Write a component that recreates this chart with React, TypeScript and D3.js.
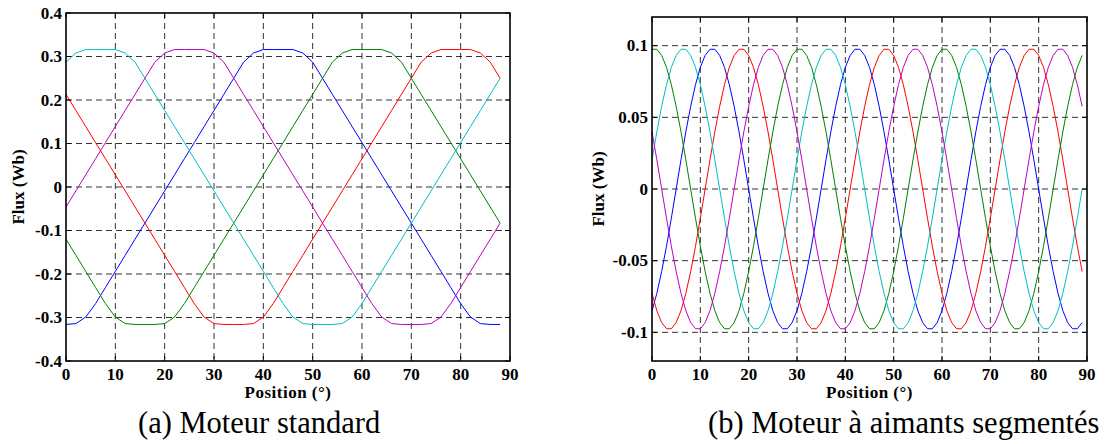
import React from "react";
import * as d3 from "d3";

// ---------- shared axes ----------
const xTicks = [0, 10, 20, 30, 40, 50, 60, 70, 80, 90];
const xTickLabels = ["0", "10", "20", "30", "40", "50", "60", "70", "80", "90"];

// ---------- (a) Moteur standard ----------
const yTicksA = [-0.4, -0.3, -0.2, -0.1, 0, 0.1, 0.2, 0.3, 0.4];
const yTickLabelsA = ["-0.4", "-0.3", "-0.2", "-0.1", "0", "0.1", "0.2", "0.3", "0.4"];
const posA = [0, 2, 4, 6, 8, 10, 12, 14, 16, 18, 20, 22, 24, 26, 28, 30, 32, 34, 36, 38, 40, 42, 44, 46, 48, 50, 52, 54, 56, 58, 60, 62, 64, 66, 68, 70, 72, 74, 76, 78, 80, 82, 84, 86, 88];
const cyanA = [0.287, 0.308, 0.316, 0.316, 0.316, 0.316, 0.308, 0.287, 0.25, 0.213, 0.176, 0.139, 0.102, 0.065, 0.028, -0.009, -0.046, -0.083, -0.12, -0.157, -0.194, -0.231, -0.268, -0.299, -0.314, -0.316, -0.316, -0.316, -0.314, -0.299, -0.268, -0.231, -0.194, -0.157, -0.12, -0.083, -0.046, -0.009, 0.028, 0.065, 0.102, 0.139, 0.176, 0.213, 0.25];
const magentaA = [-0.046, -0.009, 0.028, 0.065, 0.102, 0.139, 0.176, 0.213, 0.25, 0.287, 0.308, 0.316, 0.316, 0.316, 0.316, 0.308, 0.287, 0.25, 0.213, 0.176, 0.139, 0.102, 0.065, 0.028, -0.009, -0.046, -0.083, -0.12, -0.157, -0.194, -0.231, -0.268, -0.299, -0.314, -0.316, -0.316, -0.316, -0.314, -0.299, -0.268, -0.231, -0.194, -0.157, -0.12, -0.083];
const blueA = [-0.316, -0.314, -0.299, -0.268, -0.231, -0.194, -0.157, -0.12, -0.083, -0.046, -0.009, 0.028, 0.065, 0.102, 0.139, 0.176, 0.213, 0.25, 0.287, 0.308, 0.316, 0.316, 0.316, 0.316, 0.308, 0.287, 0.25, 0.213, 0.176, 0.139, 0.102, 0.065, 0.028, -0.009, -0.046, -0.083, -0.12, -0.157, -0.194, -0.231, -0.268, -0.299, -0.314, -0.316, -0.316];
const greenA = [-0.12, -0.157, -0.194, -0.231, -0.268, -0.299, -0.314, -0.316, -0.316, -0.316, -0.314, -0.299, -0.268, -0.231, -0.194, -0.157, -0.12, -0.083, -0.046, -0.009, 0.028, 0.065, 0.102, 0.139, 0.176, 0.213, 0.25, 0.287, 0.308, 0.316, 0.316, 0.316, 0.316, 0.308, 0.287, 0.25, 0.213, 0.176, 0.139, 0.102, 0.065, 0.028, -0.009, -0.046, -0.083];
const redA = [0.213, 0.176, 0.139, 0.102, 0.065, 0.028, -0.009, -0.046, -0.083, -0.12, -0.157, -0.194, -0.231, -0.268, -0.299, -0.314, -0.316, -0.316, -0.316, -0.314, -0.299, -0.268, -0.231, -0.194, -0.157, -0.12, -0.083, -0.046, -0.009, 0.028, 0.065, 0.102, 0.139, 0.176, 0.213, 0.25, 0.287, 0.308, 0.316, 0.316, 0.316, 0.316, 0.308, 0.287, 0.25];

// ---------- (b) Moteur à aimants segmentés ----------
const yTicksB = [-0.1, -0.05, 0, 0.05, 0.1];
const yTickLabelsB = ["-0.1", "-0.05", "0", "0.05", "0.1"];
const posB = [0, 1, 2, 3, 4, 5, 6, 7, 8, 9, 10, 11, 12, 13, 14, 15, 16, 17, 18, 19, 20, 21, 22, 23, 24, 25, 26, 27, 28, 29, 30, 31, 32, 33, 34, 35, 36, 37, 38, 39, 40, 41, 42, 43, 44, 45, 46, 47, 48, 49, 50, 51, 52, 53, 54, 55, 56, 57, 58, 59, 60, 61, 62, 63, 64, 65, 66, 67, 68, 69, 70, 71, 72, 73, 74, 75, 76, 77, 78, 79, 80, 81, 82, 83, 84, 85, 86, 87, 88, 89];
const greenB = [
  0.0975, 0.0975, 0.0932, 0.0849, 0.0728, 0.0576, 0.0399, 0.0204, 0, -0.0204, -0.0399, -0.0576, -0.0728, -0.0849, -0.0932, -0.0975, -0.0975, -0.0932, -0.0849, -0.0728, -0.0576, -0.0399, -0.0204, 0, 0.0204, 0.0399, 0.0576, 0.0728, 0.0849, 0.0932,
  0.0975, 0.0975, 0.0932, 0.0849, 0.0728, 0.0576, 0.0399, 0.0204, 0, -0.0204, -0.0399, -0.0576, -0.0728, -0.0849, -0.0932, -0.0975, -0.0975, -0.0932, -0.0849, -0.0728, -0.0576, -0.0399, -0.0204, 0, 0.0204, 0.0399, 0.0576, 0.0728, 0.0849, 0.0932,
  0.0975, 0.0975, 0.0932, 0.0849, 0.0728, 0.0576, 0.0399, 0.0204, 0, -0.0204, -0.0399, -0.0576, -0.0728, -0.0849, -0.0932, -0.0975, -0.0975, -0.0932, -0.0849, -0.0728, -0.0576, -0.0399, -0.0204, 0, 0.0204, 0.0399, 0.0576, 0.0728, 0.0849, 0.0932,
];
const cyanB = [
  0.0204, 0.0399, 0.0576, 0.0728, 0.0849, 0.0932, 0.0975, 0.0975, 0.0932, 0.0849, 0.0728, 0.0576, 0.0399, 0.0204, 0, -0.0204, -0.0399, -0.0576, -0.0728, -0.0849, -0.0932, -0.0975, -0.0975, -0.0932, -0.0849, -0.0728, -0.0576, -0.0399, -0.0204, 0,
  0.0204, 0.0399, 0.0576, 0.0728, 0.0849, 0.0932, 0.0975, 0.0975, 0.0932, 0.0849, 0.0728, 0.0576, 0.0399, 0.0204, 0, -0.0204, -0.0399, -0.0576, -0.0728, -0.0849, -0.0932, -0.0975, -0.0975, -0.0932, -0.0849, -0.0728, -0.0576, -0.0399, -0.0204, 0,
  0.0204, 0.0399, 0.0576, 0.0728, 0.0849, 0.0932, 0.0975, 0.0975, 0.0932, 0.0849, 0.0728, 0.0576, 0.0399, 0.0204, 0, -0.0204, -0.0399, -0.0576, -0.0728, -0.0849, -0.0932, -0.0975, -0.0975, -0.0932, -0.0849, -0.0728, -0.0576, -0.0399, -0.0204, 0,
];
const blueB = [
  -0.0849, -0.0728, -0.0576, -0.0399, -0.0204, 0, 0.0204, 0.0399, 0.0576, 0.0728, 0.0849, 0.0932, 0.0975, 0.0975, 0.0932, 0.0849, 0.0728, 0.0576, 0.0399, 0.0204, 0, -0.0204, -0.0399, -0.0576, -0.0728, -0.0849, -0.0932, -0.0975, -0.0975, -0.0932,
  -0.0849, -0.0728, -0.0576, -0.0399, -0.0204, 0, 0.0204, 0.0399, 0.0576, 0.0728, 0.0849, 0.0932, 0.0975, 0.0975, 0.0932, 0.0849, 0.0728, 0.0576, 0.0399, 0.0204, 0, -0.0204, -0.0399, -0.0576, -0.0728, -0.0849, -0.0932, -0.0975, -0.0975, -0.0932,
  -0.0849, -0.0728, -0.0576, -0.0399, -0.0204, 0, 0.0204, 0.0399, 0.0576, 0.0728, 0.0849, 0.0932, 0.0975, 0.0975, 0.0932, 0.0849, 0.0728, 0.0576, 0.0399, 0.0204, 0, -0.0204, -0.0399, -0.0576, -0.0728, -0.0849, -0.0932, -0.0975, -0.0975, -0.0932,
];
const redB = [
  -0.0728, -0.0849, -0.0932, -0.0975, -0.0975, -0.0932, -0.0849, -0.0728, -0.0576, -0.0399, -0.0204, 0, 0.0204, 0.0399, 0.0576, 0.0728, 0.0849, 0.0932, 0.0975, 0.0975, 0.0932, 0.0849, 0.0728, 0.0576, 0.0399, 0.0204, 0, -0.0204, -0.0399, -0.0576,
  -0.0728, -0.0849, -0.0932, -0.0975, -0.0975, -0.0932, -0.0849, -0.0728, -0.0576, -0.0399, -0.0204, 0, 0.0204, 0.0399, 0.0576, 0.0728, 0.0849, 0.0932, 0.0975, 0.0975, 0.0932, 0.0849, 0.0728, 0.0576, 0.0399, 0.0204, 0, -0.0204, -0.0399, -0.0576,
  -0.0728, -0.0849, -0.0932, -0.0975, -0.0975, -0.0932, -0.0849, -0.0728, -0.0576, -0.0399, -0.0204, 0, 0.0204, 0.0399, 0.0576, 0.0728, 0.0849, 0.0932, 0.0975, 0.0975, 0.0932, 0.0849, 0.0728, 0.0576, 0.0399, 0.0204, 0, -0.0204, -0.0399, -0.0576,
];
const magentaB = [
  0.0399, 0.0204, 0, -0.0204, -0.0399, -0.0576, -0.0728, -0.0849, -0.0932, -0.0975, -0.0975, -0.0932, -0.0849, -0.0728, -0.0576, -0.0399, -0.0204, 0, 0.0204, 0.0399, 0.0576, 0.0728, 0.0849, 0.0932, 0.0975, 0.0975, 0.0932, 0.0849, 0.0728, 0.0576,
  0.0399, 0.0204, 0, -0.0204, -0.0399, -0.0576, -0.0728, -0.0849, -0.0932, -0.0975, -0.0975, -0.0932, -0.0849, -0.0728, -0.0576, -0.0399, -0.0204, 0, 0.0204, 0.0399, 0.0576, 0.0728, 0.0849, 0.0932, 0.0975, 0.0975, 0.0932, 0.0849, 0.0728, 0.0576,
  0.0399, 0.0204, 0, -0.0204, -0.0399, -0.0576, -0.0728, -0.0849, -0.0932, -0.0975, -0.0975, -0.0932, -0.0849, -0.0728, -0.0576, -0.0399, -0.0204, 0, 0.0204, 0.0399, 0.0576, 0.0728, 0.0849, 0.0932, 0.0975, 0.0975, 0.0932, 0.0849, 0.0728, 0.0576,
];

const COLORS = {
  blue: "#0000ff",
  red: "#ff0000",
  green: "#008000",
  cyan: "#00bfbf",
  magenta: "#bf00bf",
};

const FONT = "Liberation Serif";

type Series = { values: number[]; color: string };

type PanelProps = {
  left: number;
  right: number;
  top: number;
  bottom: number;
  yDomain: [number, number];
  yTicks: number[];
  yTickLabels: string[];
  yGrid: number[];
  positions: number[];
  series: Series[];
  yLabelX: number;
  caption: string;
  captionX: number;
};

function Panel(p: PanelProps) {
  const x = d3.scaleLinear().domain([0, 90]).range([p.left, p.right]);
  const y = d3.scaleLinear().domain(p.yDomain).range([p.bottom, p.top]);
  const line = d3
    .line<number>()
    .x((_, i) => x(p.positions[i]))
    .y((v) => y(v));
  const xGrid = xTicks.filter((t) => t > 0 && t < 90);
  const tickLen = 5;
  const midY = (p.top + p.bottom) / 2;
  return (
    <g>
      {xGrid.map((t) => (
        <line
          key={"gx" + t}
          x1={x(t)}
          x2={x(t)}
          y1={p.top}
          y2={p.bottom}
          stroke="#000"
          strokeOpacity={0.8}
          strokeWidth={1}
          strokeDasharray="6,4"
        />
      ))}
      {p.yGrid.map((t) => (
        <line
          key={"gy" + t}
          x1={p.left}
          x2={p.right}
          y1={y(t)}
          y2={y(t)}
          stroke="#000"
          strokeOpacity={0.8}
          strokeWidth={1}
          strokeDasharray="6,4"
        />
      ))}
      {p.series.map((s, i) => (
        <path key={"s" + i} d={line(s.values) || ""} fill="none" stroke={s.color} strokeWidth={1} />
      ))}
      {xTicks.map((t) => (
        <g key={"tx" + t}>
          <line x1={x(t)} x2={x(t)} y1={p.bottom} y2={p.bottom - tickLen} stroke="#000" />
          <line x1={x(t)} x2={x(t)} y1={p.top} y2={p.top + tickLen} stroke="#000" />
        </g>
      ))}
      {p.yTicks.map((t) => (
        <g key={"ty" + t}>
          <line x1={p.left} x2={p.left + tickLen} y1={y(t)} y2={y(t)} stroke="#000" />
          <line x1={p.right} x2={p.right - tickLen} y1={y(t)} y2={y(t)} stroke="#000" />
        </g>
      ))}
      <rect
        x={p.left}
        y={p.top}
        width={p.right - p.left}
        height={p.bottom - p.top}
        fill="none"
        stroke="#000"
        strokeWidth={1.6}
      />
      {xTicks.map((t, i) => (
        <text
          key={"lx" + t}
          x={x(t)}
          y={p.bottom + 19}
          textAnchor="middle"
          fontFamily={FONT}
          fontWeight="bold"
          fontSize={17}
        >
          {xTickLabels[i]}
        </text>
      ))}
      {p.yTicks.map((t, i) => (
        <text
          key={"ly" + t}
          x={p.left - 4}
          y={y(t) + 5.5}
          textAnchor="end"
          fontFamily={FONT}
          fontWeight="bold"
          fontSize={17}
        >
          {p.yTickLabels[i]}
        </text>
      ))}
      <text
        x={(p.left + p.right) / 2}
        y={398}
        textAnchor="middle"
        fontFamily={FONT}
        fontWeight="bold"
        fontSize={17}
        letterSpacing={0.5}
      >
        Position (°)
      </text>
      <text
        transform={`translate(${p.yLabelX},${midY}) rotate(-90)`}
        textAnchor="middle"
        fontFamily={FONT}
        fontWeight="bold"
        fontSize={17}
      >
        Flux (Wb)
      </text>
      <text x={p.captionX} y={433} fontFamily={FONT} fontSize={30.5}>
        {p.caption}
      </text>
    </g>
  );
}

export default function App() {
  return (
    <svg
      width={1109}
      height={444}
      style={{ position: "absolute", left: 0, top: 0, background: "#fff" }}
    >
      <rect x={0} y={0} width={1109} height={444} fill="#fff" />
      <Panel
        left={66}
        right={510}
        top={13}
        bottom={361}
        yDomain={[-0.4, 0.4]}
        yTicks={yTicksA}
        yTickLabels={yTickLabelsA}
        yGrid={[-0.3, -0.2, -0.1, 0, 0.1, 0.2, 0.3]}
        positions={posA}
        series={[
          { values: blueA, color: COLORS.blue },
          { values: redA, color: COLORS.red },
          { values: greenA, color: COLORS.green },
          { values: cyanA, color: COLORS.cyan },
          { values: magentaA, color: COLORS.magenta },
        ]}
        yLabelX={24}
        caption="(a) Moteur standard"
        captionX={138}
      />
      <Panel
        left={652}
        right={1087}
        top={17}
        bottom={361}
        yDomain={[-0.12, 0.12]}
        yTicks={yTicksB}
        yTickLabels={yTickLabelsB}
        yGrid={yTicksB}
        positions={posB}
        series={[
          { values: blueB, color: COLORS.blue },
          { values: redB, color: COLORS.red },
          { values: greenB, color: COLORS.green },
          { values: cyanB, color: COLORS.cyan },
          { values: magentaB, color: COLORS.magenta },
        ]}
        yLabelX={604}
        caption="(b) Moteur à aimants segmentés"
        captionX={708}
      />
    </svg>
  );
}
